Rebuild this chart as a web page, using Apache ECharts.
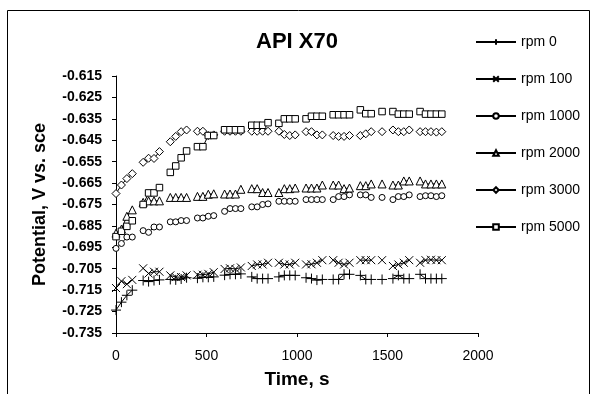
<!DOCTYPE html>
<html>
<head>
<meta charset="utf-8">
<script src="https://cdn.jsdelivr.net/npm/echarts@6/dist/echarts.min.js"></script>
<style>
  html, body { margin: 0; padding: 0; background: #fff; }
  #chart { width: 597px; height: 394px; }
</style>
</head>
<body>
<div id="chart"></div>
<script>
// time of each reading (s); readings come in groups, a gap between groups
var time = [0, 30, 60, 90, 150, 180, 210, 240, 300, 330, 360, 390,
  450, 480, 510, 540, 600, 630, 660, 690, 750, 780, 810, 840,
  900, 930, 960, 990, 1050, 1080, 1110, 1140, 1200, 1230, 1260, 1290,
  1350, 1380, 1410, 1470, 1530, 1560, 1590, 1620, 1680, 1710, 1740, 1770, 1800];

var rpm0 = [-0.7243, -0.7206, -0.7174, -0.7150, -0.7105, -0.7110, -0.7105, -0.7102,
  -0.7100, -0.7102, -0.7098, -0.7092, -0.7094, -0.7090, -0.7090, -0.7088,
  -0.7080, -0.7076, -0.7076, -0.7074, -0.7088, -0.7096, -0.7096, -0.7096,
  -0.7088, -0.7081, -0.7081, -0.7081, -0.7092, -0.7096, -0.7103, -0.7100,
  -0.7100, -0.7100, -0.7076, -0.7076, -0.7081, -0.7100, -0.7100, -0.7100,
  -0.7096, -0.7081, -0.7096, -0.7096, -0.7076, -0.7096, -0.7096, -0.7096, -0.7096];

var rpm100 = [-0.7140, -0.7108, -0.7122, -0.7102, -0.7048, -0.7072, -0.7064, -0.7064,
  -0.7081, -0.7089, -0.7089, -0.7081, -0.7078, -0.7078, -0.7074, -0.7066,
  -0.7051, -0.7048, -0.7051, -0.7044, -0.7037, -0.7030, -0.7030, -0.7022,
  -0.7022, -0.7030, -0.7030, -0.7022, -0.7030, -0.7029, -0.7022, -0.7010,
  -0.7010, -0.7022, -0.7030, -0.7022, -0.7010, -0.7010, -0.7010, -0.7010,
  -0.7037, -0.7030, -0.7022, -0.7010, -0.7022, -0.7010, -0.7008, -0.7010, -0.7010];

var rpm1000 = [-0.6955, -0.6932, -0.6902, -0.6902, -0.6872, -0.6880, -0.6855, -0.6855,
  -0.6831, -0.6831, -0.6825, -0.6825, -0.6813, -0.6813, -0.6805, -0.6802,
  -0.6782, -0.6769, -0.6769, -0.6769, -0.6761, -0.6761, -0.6750, -0.6747,
  -0.6735, -0.6735, -0.6735, -0.6735, -0.6727, -0.6727, -0.6727, -0.6727,
  -0.6727, -0.6713, -0.6713, -0.6705, -0.6705, -0.6705, -0.6717, -0.6717,
  -0.6727, -0.6713, -0.6713, -0.6705, -0.6713, -0.6709, -0.6709, -0.6713, -0.6709];

var rpm2000 = [-0.6884, -0.6865, -0.6805, -0.6775, -0.6740, -0.6733, -0.6733, -0.6733,
  -0.6717, -0.6717, -0.6717, -0.6717, -0.6712, -0.6712, -0.6702, -0.6700,
  -0.6701, -0.6701, -0.6701, -0.6679, -0.6676, -0.6676, -0.6694, -0.6694,
  -0.6694, -0.6676, -0.6676, -0.6673, -0.6673, -0.6673, -0.6673, -0.6659,
  -0.6659, -0.6659, -0.6676, -0.6673, -0.6662, -0.6662, -0.6654, -0.6654,
  -0.6659, -0.6659, -0.6640, -0.6640, -0.6640, -0.6654, -0.6654, -0.6654, -0.6654];

var rpm3000 = [-0.6699, -0.6659, -0.6629, -0.6606, -0.6553, -0.6534, -0.6535, -0.6503,
  -0.6457, -0.6432, -0.6410, -0.6402, -0.6408, -0.6408, -0.6428, -0.6425,
  -0.6408, -0.6408, -0.6408, -0.6408, -0.6408, -0.6408, -0.6408, -0.6408,
  -0.6408, -0.6423, -0.6428, -0.6425, -0.6410, -0.6410, -0.6425, -0.6425,
  -0.6428, -0.6432, -0.6432, -0.6428, -0.6428, -0.6420, -0.6410, -0.6410,
  -0.6402, -0.6410, -0.6410, -0.6402, -0.6410, -0.6410, -0.6410, -0.6412, -0.6410];

var rpm5000 = [-0.6900, -0.6875, -0.6852, -0.6826, -0.6750, -0.6696, -0.6696, -0.6671,
  -0.6600, -0.6570, -0.6532, -0.6500, -0.6480, -0.6480, -0.6428, -0.6428,
  -0.6401, -0.6401, -0.6401, -0.6401, -0.6380, -0.6380, -0.6380, -0.6368,
  -0.6371, -0.6350, -0.6350, -0.6350, -0.6350, -0.6338, -0.6338, -0.6338,
  -0.6331, -0.6331, -0.6331, -0.6331, -0.6308, -0.6326, -0.6326, -0.6316,
  -0.6316, -0.6328, -0.6328, -0.6328, -0.6316, -0.6328, -0.6328, -0.6328, -0.6328];

var seriesNames = ["rpm 0", "rpm 100", "rpm 1000", "rpm 2000", "rpm 3000", "rpm 5000"];
var yTicks = [-0.735, -0.725, -0.715, -0.705, -0.695, -0.685, -0.675,
  -0.665, -0.655, -0.645, -0.635, -0.625, -0.615];

var FONT = "Liberation Sans, Arial, sans-serif";

// pairs (time, value), with a break wherever a reading is missing
function toPairs(values) {
  var out = [];
  for (var i = 0; i < values.length; i++) {
    out.push([time[i], values[i]]);
    if (i < values.length - 1 && time[i + 1] - time[i] > 45) {
      out.push([time[i] + 30, "-"]);
    }
  }
  return out;
}

var markers = [
  { symbol: "path://M5,0L5,10M0,5L10,5", size: 10, fill: "#000" },
  { symbol: "path://M0,0L10,10M0,10L10,0", size: 8, fill: "#000" },
  { symbol: "circle", size: 6, fill: "#fff" },
  { symbol: "triangle", size: 8, fill: "#fff" },
  { symbol: "diamond", size: 8, fill: "#fff" },
  { symbol: "rect", size: 6.5, fill: "#fff" }
];
var allValues = [rpm0, rpm100, rpm1000, rpm2000, rpm3000, rpm5000];

var series = [];
for (var s = 0; s < allValues.length; s++) {
  series.push({
    name: seriesNames[s],
    type: "line",
    data: toPairs(allValues[s]),
    symbol: markers[s].symbol,
    symbolSize: markers[s].size,
    showAllSymbol: true,
    connectNulls: false,
    lineStyle: { color: "#000", width: 1 },
    itemStyle: { color: markers[s].fill, borderColor: "#000", borderWidth: 1 }
  });
}

var myChart = echarts.init(document.getElementById("chart"));
myChart.setOption({
  animation: false,
  backgroundColor: "#fff",
  title: {
    text: "API X70",
    left: 292,
    textAlign: "center",
    top: 26,
    textStyle: { fontFamily: FONT, fontSize: 22, fontWeight: "bold", color: "#000" }
  },
  graphic: [{
    type: "rect",
    shape: { x: 7.5, y: 10.5, width: 582, height: 400 },
    style: { fill: null, stroke: "#000", lineWidth: 1 },
    silent: true
  }],
  legend: {
    orient: "vertical",
    left: 470,
    top: 30,
    itemWidth: 40,
    itemHeight: 7,
    itemGap: 23,
    textStyle: { fontFamily: FONT, fontSize: 14, color: "#000" },
    data: seriesNames
  },
  grid: { left: 116, right: 119, top: 76, bottom: 55 },
  xAxis: {
    type: "value",
    min: 0,
    max: 2000,
    interval: 500,
    name: "Time, s",
    nameLocation: "middle",
    nameGap: 37,
    nameTextStyle: { fontFamily: FONT, fontSize: 19, fontWeight: "bold", color: "#000" },
    axisLine: { lineStyle: { color: "#000" } },
    axisTick: { length: 4, lineStyle: { color: "#000" } },
    axisLabel: {
      fontFamily: FONT, fontSize: 14, color: "#000", margin: 16,
      formatter: function (v) { return String(v); }
    },
    splitLine: { show: false }
  },
  yAxis: {
    type: "value",
    min: -0.735,
    max: -0.615,
    name: "Potential, V vs. sce",
    nameLocation: "middle",
    nameGap: 67,
    nameTextStyle: { fontFamily: FONT, fontSize: 18, fontWeight: "bold", color: "#000" },
    axisLine: { show: true, lineStyle: { color: "#000" } },
    axisTick: { show: true, length: 4, customValues: yTicks, lineStyle: { color: "#000" } },
    axisLabel: {
      fontFamily: FONT, fontSize: 14, fontWeight: "bold", color: "#000", margin: 14,
      customValues: yTicks,
      formatter: function (v) { return v.toFixed(3); }
    },
    splitLine: { show: false }
  },
  series: series
});
</script>
</body>
</html>
